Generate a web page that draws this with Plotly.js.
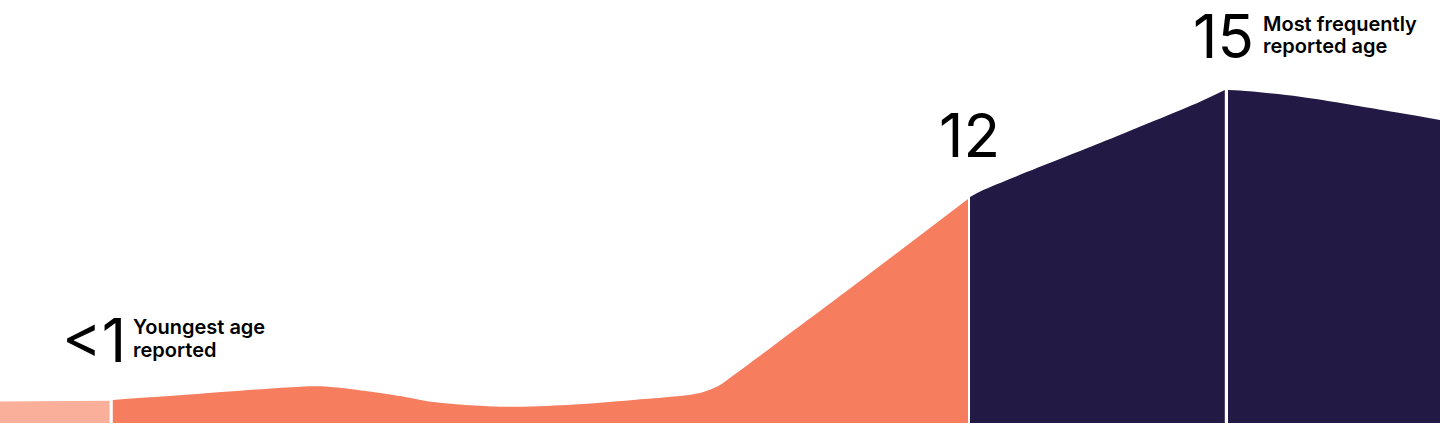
<!DOCTYPE html>
<html>
<head>
<meta charset="utf-8">
<script src="https://cdn.plot.ly/plotly-3.0.1.min.js"></script>
<style>
  html, body { margin: 0; padding: 0; background: #ffffff; }
  #chart { width: 1440px; height: 426px; }
</style>
</head>
<body>
<div id="chart"></div>
<script>
// Age-position scale (x) and relative share of reports (y)
const infantX = [0, 1.37];
const infantY = [5.08, 5.27];

const childX = [1.41, 2.5, 3.75, 4.06, 4.375, 5.0, 5.41, 6.25, 7.09, 7.91, 8.75, 9.0, 9.09, 10.625, 12.1];
const childY = [5.44, 6.9, 8.58, 8.63, 8.04, 6.38, 4.96, 3.85, 4.26, 5.44, 7.09, 8.98, 10.17, 31.8, 52.96];

const teenX = [12.125, 12.29, 13.75, 15.0, 15.31];
const teenY = [53.43, 55.08, 66.19, 75.96, 78.72];

const lateTeenX = [15.35, 15.5, 16.25, 17.5, 18];
const lateTeenY = [78.72, 78.6, 77.14, 73.29, 71.63];

const bigLabels = ["<1", "12", "15"];
const youngestLines = ["Youngest age", "reported"];
const frequentLines = ["Most frequently", "reported age"];

const cLight = "#F9AF9A", cSalmon = "#F77D5F", cNavy = "#221A44";

function area(x, y, color, shape) {
  return {
    x: x, y: y, type: "scatter", mode: "lines",
    fill: "tozeroy", fillcolor: color,
    line: { width: 0, color: color, shape: shape || "linear", smoothing: 0.8 },
    hoverinfo: "skip"
  };
}

const data = [
  area(infantX, infantY, cLight),
  area(childX, childY, cSalmon, "spline"),
  area(teenX, teenY, cNavy, "spline"),
  area(lateTeenX, lateTeenY, cNavy, "spline")
];

const bigFont = { family: "Inter, 'Noto Sans', sans-serif", size: 60, color: "#000000", weight: 400 };
const smallFont = { family: "Inter, 'Noto Sans', sans-serif", size: 20, color: "#000000", weight: 600 };

function ann(text, x, y, font, xanchor) {
  return { text: text, x: x, y: y, xref: "x", yref: "y", showarrow: false,
           font: font, xanchor: xanchor, yanchor: "middle", borderpad: 0 };
}

const annotations = [
  ann(bigLabels[0], 1.175, 19.62, bigFont, "center"),
  ann(youngestLines[0], 1.65, 22.58, smallFont, "left"),
  ann(youngestLines[1], 1.65, 17.2, smallFont, "left"),
  ann(bigLabels[1], 12.12, 67.97, bigFont, "center"),
  ann(bigLabels[2], 15.29, 91.49, bigFont, "center"),
  ann(frequentLines[0], 15.775, 94.44, smallFont, "left"),
  ann(frequentLines[1], 15.775, 89.1, smallFont, "left")
];

const layout = {
  width: 1440, height: 426,
  margin: { l: 0, r: 0, t: 0, b: 3, pad: 0 },
  paper_bgcolor: "#ffffff", plot_bgcolor: "#ffffff",
  showlegend: false, hovermode: false,
  xaxis: { range: [0, 18], visible: false, fixedrange: true },
  yaxis: { range: [0, 100], visible: false, fixedrange: true },
  annotations: annotations
};

Plotly.newPlot("chart", data, layout, { displayModeBar: false, staticPlot: true });
</script>
</body>
</html>
